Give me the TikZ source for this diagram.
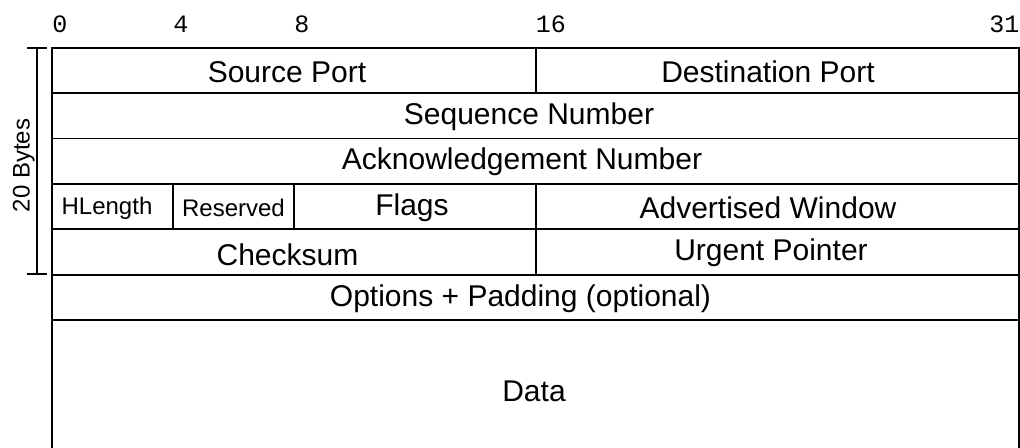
\documentclass[tikz,border=0pt]{standalone}
\usepackage{fontspec}
\setmainfont{Liberation Sans}
\setmonofont{Liberation Mono}
\begin{document}
\begin{tikzpicture}[x=0.5pt,y=-0.5pt,
  cell/.style={draw=black,line width=0.8pt},
  field/.style={anchor=base,inner sep=0pt,font=\fontsize{15}{18}\selectfont},
  smallfield/.style={anchor=base,inner sep=0pt,font=\fontsize{12}{14}\selectfont},
  bitno/.style={anchor=base west,inner sep=0pt,font=\ttfamily\fontsize{12.5}{15}\selectfont},
  bracket/.style={draw=black,line width=0.7pt}]
\clip (0,0) rectangle (1020,448);
% cells
\draw[cell] (52,48) rectangle (536,93.3);
\draw[cell] (536,48) rectangle (1019,93.3);
\draw[cell] (52,93.3) rectangle (1019,138.7);
\draw[cell] (52,138.7) rectangle (1019,184);
\draw[cell] (52,184) rectangle (173,229.3);
\draw[cell] (173,184) rectangle (294,229.3);
\draw[cell] (294,184) rectangle (536,229.3);
\draw[cell] (536,184) rectangle (1019,229.3);
\draw[cell] (52,229.3) rectangle (536,274.7);
\draw[cell] (536,229.3) rectangle (1019,274.7);
\draw[cell] (52,274.7) rectangle (1019,320);
\draw[cell] (52,320) rectangle (1019,480);
% bit numbers
\node[bitno] (b0) at (52,33) {0};
\node[bitno] (b4) at (173,33) {4};
\node[bitno] (b8) at (294,33) {8};
\node[bitno] (b16) at (535.5,33) {16};
\node[bitno] (b31) at (989,33) {31};
% field labels
\node[field] (sport) at (287,83) {Source Port};
\node[field] (dport) at (768,83) {Destination Port};
\node[field] (seq) at (529,125) {Sequence Number};
\node[field] (ack) at (522,170) {Acknowledgement Number};
\node[smallfield] (hlen) at (107,215) {HLength};
\node[smallfield] (res) at (233.5,217) {Reserved};
\node[field] (flags) at (412,215.7) {Flags};
\node[field] (win) at (768,219) {Advertised Window};
\node[field] (csum) at (287.5,265) {Checksum};
\node[field] (urg) at (771,261) {Urgent Pointer};
\node[field] (opt) at (520.5,306.7) {Options + Padding (optional)};
\node[field] (data) at (534,401) {Data};
% bracket
\coordinate (bt) at (37,48);
\coordinate (bb) at (37,274);
\draw[bracket] (bt) -- (bb);
\draw[bracket] ([xshift=-5]bt) -- ([xshift=5]bt);
\draw[bracket] ([xshift=-5]bb) -- ([xshift=5]bb);
\node[smallfield,rotate=90] (bytes) at (29.5,165.5) {20 Bytes};
\end{tikzpicture}
\end{document}
